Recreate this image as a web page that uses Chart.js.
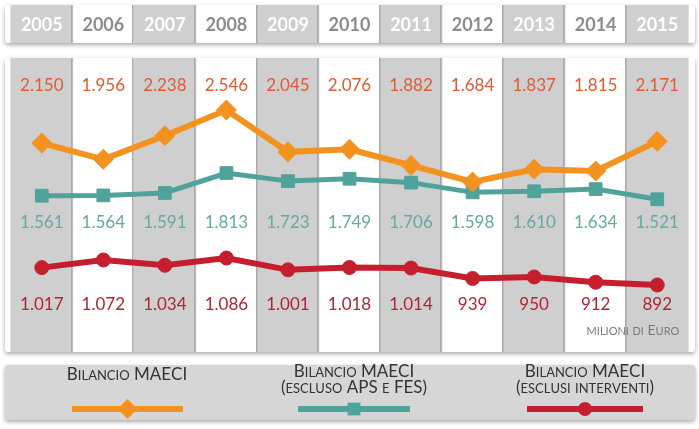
<!DOCTYPE html>
<html>
<head>
<meta charset="utf-8">
<script src="https://cdn.jsdelivr.net/npm/chart.js@4/dist/chart.umd.min.js"></script>
<style>
  html, body { margin: 0; padding: 0; background: #fff; }
  canvas { display: block; }
</style>
</head>
<body>
<canvas id="maeci" width="699" height="429"></canvas>
<script>
// anni e valori (milioni di euro)
const years = ['2005', '2006', '2007', '2008', '2009', '2010', '2011', '2012', '2013', '2014', '2015'];
const bilancio = [2150, 1956, 2238, 2546, 2045, 2076, 1882, 1684, 1837, 1815, 2171];
const esclusoApsFes = [1561, 1564, 1591, 1813, 1723, 1749, 1706, 1598, 1610, 1634, 1521];
const esclusiInterventi = [1017, 1072, 1034, 1086, 1001, 1018, 1014, 939, 950, 912, 892];

const ORANGE = '#f4921f', TEAL = '#4fa39b', RED = '#c51f2e';
const GREY = '#cfcfcf';
const FONT = 'Lato, "Open Sans", sans-serif';

function fmt(v) {
  return v >= 1000 ? Math.floor(v / 1000) + '.' + String(v % 1000).padStart(3, '0') : String(v);
}

// maiuscoletto: minuscole -> maiuscole piccole
function smallCaps(ctx, text, cx, y, size, color) {
  const small = Math.round(size * 0.76);
  const parts = [];
  let w = 0;
  for (const ch of text) {
    const isLow = ch !== ch.toUpperCase();
    const s = isLow ? small : size;
    ctx.font = s + 'px ' + FONT;
    const c = ch.toUpperCase();
    const cw = ctx.measureText(c).width;
    parts.push([c, s, cw]);
    w += cw;
  }
  let x = cx - w / 2;
  ctx.fillStyle = color;
  ctx.textAlign = 'left';
  ctx.textBaseline = 'alphabetic';
  for (const [c, s, cw] of parts) {
    ctx.font = s + 'px ' + FONT;
    ctx.fillText(c, x, y);
    x += cw;
  }
}

function marker(ctx, style, x, y, r, color) {
  ctx.fillStyle = color;
  ctx.beginPath();
  if (style === 'rectRot') {
    ctx.moveTo(x, y - r); ctx.lineTo(x + r, y); ctx.lineTo(x, y + r); ctx.lineTo(x - r, y);
  } else if (style === 'rect') {
    ctx.rect(x - r * 0.71, y - r * 0.71, r * 1.42, r * 1.42);
  } else {
    ctx.arc(x, y, r, 0, Math.PI * 2);
  }
  ctx.fill();
}

const panelPlugin = {
  id: 'panels',
  beforeDraw(chart) {
    const ctx = chart.ctx;
    const xs = chart.scales.x;
    const L = 5, R = 695;
    const colW = (R - L) / years.length;

    function strip(top, bottom, bg) {
      ctx.save();
      ctx.shadowColor = 'rgba(0,0,0,0.35)';
      ctx.shadowBlur = 4;
      ctx.shadowOffsetY = 2;
      ctx.fillStyle = bg;
      ctx.beginPath();
      ctx.roundRect(L, top, R - L, bottom - top, 3);
      ctx.fill();
      ctx.restore();
    }

    // intestazione e corpo
    [[5, 43], [58, 352]].forEach(([top, bottom]) => {
      strip(top, bottom, '#fff');
      years.forEach((y, i) => {
        const cx = xs.getPixelForValue(i);
        if (i % 2 === 0) {
          ctx.fillStyle = GREY;
          ctx.fillRect(cx - colW / 2, top, colW, bottom - top);
        }
        if (i > 0) {
          ctx.fillStyle = '#a9a9a9';
          ctx.fillRect(Math.round(cx - colW / 2) - 1, top, 1.5, bottom - top);
        }
      });
    });

    // legenda
    strip(365, 420, '#d6d6d6');
  },
  afterDraw(chart) {
    const ctx = chart.ctx;
    const xs = chart.scales.x;
    ctx.save();
    ctx.textAlign = 'center';
    ctx.textBaseline = 'middle';

    years.forEach((y, i) => {
      const cx = xs.getPixelForValue(i);
      ctx.font = 'bold 18px ' + FONT;
      ctx.fillStyle = i % 2 === 0 ? '#ffffff' : '#8c8c8c';
      ctx.fillText(y, cx, 25);

      ctx.font = '17px ' + FONT;
      ctx.fillStyle = '#e05a33';
      ctx.fillText(fmt(bilancio[i]), cx, 86);
      ctx.fillStyle = '#67a8a1';
      ctx.fillText(fmt(esclusoApsFes[i]), cx, 223);
      ctx.fillStyle = '#b02533';
      ctx.fillText(fmt(esclusiInterventi[i]), cx, 305);
    });

    smallCaps(ctx, 'milioni di Euro', 633, 335, 14, '#7a7a7a');

    // voci della legenda
    const items = [
      { lines: ['Bilancio MAECI'], cx: 127, x1: 72, x2: 183, ds: 0 },
      { lines: ['Bilancio MAECI', '(escluso APS e FES)'], cx: 354, x1: 298, x2: 410, ds: 1 },
      { lines: ['Bilancio MAECI', '(esclusi interventi)'], cx: 585, x1: 527, x2: 643, ds: 2 }
    ];
    items.forEach(it => {
      const ds = chart.data.datasets[it.ds];
      if (it.lines.length === 1) {
        smallCaps(ctx, it.lines[0], it.cx, 380, 17, '#333');
      } else {
        smallCaps(ctx, it.lines[0], it.cx, 377, 17, '#333');
        smallCaps(ctx, it.lines[1], it.cx, 393, 17, '#333');
      }
      ctx.strokeStyle = ds.borderColor;
      ctx.lineWidth = 6;
      ctx.beginPath();
      ctx.moveTo(it.x1, 409);
      ctx.lineTo(it.x2, 409);
      ctx.stroke();
      marker(ctx, ds.pointStyle, (it.x1 + it.x2) / 2, 409, ds.pointRadius, ds.borderColor);
    });
    ctx.restore();
  }
};

new Chart(document.getElementById('maeci'), {
  type: 'line',
  data: {
    labels: years,
    datasets: [
      {
        label: 'Bilancio MAECI',
        data: bilancio,
        yAxisID: 'yA',
        borderColor: ORANGE, backgroundColor: ORANGE,
        pointBackgroundColor: ORANGE, pointBorderColor: ORANGE, pointBorderWidth: 1,
        borderWidth: 6, pointStyle: 'rectRot', pointRadius: 10
      },
      {
        label: 'Bilancio MAECI (escluso APS e FES)',
        data: esclusoApsFes,
        yAxisID: 'yB',
        borderColor: TEAL, backgroundColor: TEAL,
        pointBackgroundColor: TEAL, pointBorderColor: TEAL, pointBorderWidth: 1,
        borderWidth: 5, pointStyle: 'rect', pointRadius: 9
      },
      {
        label: 'Bilancio MAECI (esclusi interventi)',
        data: esclusiInterventi,
        yAxisID: 'yC',
        borderColor: RED, backgroundColor: RED,
        pointBackgroundColor: RED, pointBorderColor: RED, pointBorderWidth: 1,
        borderWidth: 6, pointStyle: 'circle', pointRadius: 7
      }
    ]
  },
  options: {
    responsive: false,
    animation: false,
    layout: { padding: { left: 5, right: 4, top: 58, bottom: 77 } },
    plugins: { legend: false, tooltip: { enabled: false } },
    scales: {
      x: { type: 'category', offset: true, display: false },
      // ogni serie ha la sua scala, come nel grafico originale
      yA: { display: false, min: -352, max: 3169 },
      yB: { display: false, min: -176, max: 3091 },
      yC: { display: false, min: 410, max: 2525 }
    }
  },
  plugins: [panelPlugin]
});
</script>
</body>
</html>
